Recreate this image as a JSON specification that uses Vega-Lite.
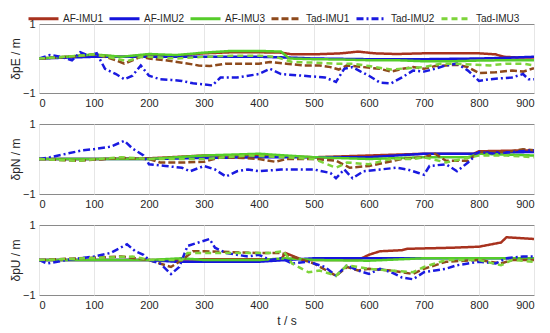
{
  "$schema": "https://vega.github.io/schema/vega-lite/v6.json",
  "padding": {"left": 8, "top": 2, "right": 5, "bottom": 5},
  "spacing": 8,
  "background": "white",
  "config": {
    "font": "Liberation Sans",
    "view": {"stroke": "#8a8a8a", "strokeWidth": 1},
    "axis": {"labelFont": "Liberation Sans", "labelFontSize": 11, "labelColor": "#262626", "titleFont": "Liberation Sans", "titleFontSize": 12, "titleFontWeight": "normal", "titleColor": "#262626", "domain": false, "tickColor": "#8a8a8a", "tickSize": 0, "labelPadding": 4},
    "legend": {"orient": "none", "legendX": -12, "legendY": -22, "direction": "horizontal", "columns": 6, "symbolType": "stroke", "symbolSize": 900, "symbolStrokeWidth": 3, "labelFontSize": 10, "labelFont": "Liberation Sans", "labelColor": "#262626", "labelOffset": 3, "columnPadding": 0, "title": null}
  },
  "data": {"values": [
{"c":"E","s":"AF-IMU1","t":0,"v":0},{"c":"E","s":"AF-IMU1","t":50,"v":0.05},{"c":"E","s":"AF-IMU1","t":100,"v":0.1},{"c":"E","s":"AF-IMU1","t":150,"v":0.05},{"c":"E","s":"AF-IMU1","t":200,"v":0.1},{"c":"E","s":"AF-IMU1","t":250,"v":0.08},{"c":"E","s":"AF-IMU1","t":300,"v":0.15},{"c":"E","s":"AF-IMU1","t":350,"v":0.18},{"c":"E","s":"AF-IMU1","t":400,"v":0.18},{"c":"E","s":"AF-IMU1","t":440,"v":0.17},{"c":"E","s":"AF-IMU1","t":460,"v":0.12},{"c":"E","s":"AF-IMU1","t":500,"v":0.12},{"c":"E","s":"AF-IMU1","t":550,"v":0.15},{"c":"E","s":"AF-IMU1","t":580,"v":0.2},{"c":"E","s":"AF-IMU1","t":610,"v":0.15},{"c":"E","s":"AF-IMU1","t":650,"v":0.13},{"c":"E","s":"AF-IMU1","t":700,"v":0.15},{"c":"E","s":"AF-IMU1","t":750,"v":0.15},{"c":"E","s":"AF-IMU1","t":800,"v":0.15},{"c":"E","s":"AF-IMU1","t":830,"v":0.12},{"c":"E","s":"AF-IMU1","t":845,"v":0.05},{"c":"E","s":"AF-IMU1","t":870,"v":0.03},{"c":"E","s":"AF-IMU1","t":900,"v":0.03},
{"c":"E","s":"AF-IMU2","t":0,"v":0},{"c":"E","s":"AF-IMU2","t":100,"v":0.05},{"c":"E","s":"AF-IMU2","t":200,"v":0.05},{"c":"E","s":"AF-IMU2","t":300,"v":0.05},{"c":"E","s":"AF-IMU2","t":400,"v":0.05},{"c":"E","s":"AF-IMU2","t":450,"v":0.03},{"c":"E","s":"AF-IMU2","t":500,"v":0.0},{"c":"E","s":"AF-IMU2","t":600,"v":-0.02},{"c":"E","s":"AF-IMU2","t":700,"v":-0.02},{"c":"E","s":"AF-IMU2","t":800,"v":0.0},{"c":"E","s":"AF-IMU2","t":850,"v":0.02},{"c":"E","s":"AF-IMU2","t":900,"v":0.05},
{"c":"E","s":"AF-IMU3","t":0,"v":0},{"c":"E","s":"AF-IMU3","t":50,"v":0.05},{"c":"E","s":"AF-IMU3","t":100,"v":0.12},{"c":"E","s":"AF-IMU3","t":150,"v":0.05},{"c":"E","s":"AF-IMU3","t":200,"v":0.13},{"c":"E","s":"AF-IMU3","t":250,"v":0.1},{"c":"E","s":"AF-IMU3","t":300,"v":0.17},{"c":"E","s":"AF-IMU3","t":350,"v":0.22},{"c":"E","s":"AF-IMU3","t":400,"v":0.22},{"c":"E","s":"AF-IMU3","t":440,"v":0.2},{"c":"E","s":"AF-IMU3","t":455,"v":0.0},{"c":"E","s":"AF-IMU3","t":500,"v":-0.02},{"c":"E","s":"AF-IMU3","t":550,"v":-0.03},{"c":"E","s":"AF-IMU3","t":600,"v":-0.05},{"c":"E","s":"AF-IMU3","t":650,"v":-0.05},{"c":"E","s":"AF-IMU3","t":700,"v":-0.08},{"c":"E","s":"AF-IMU3","t":750,"v":-0.08},{"c":"E","s":"AF-IMU3","t":800,"v":-0.06},{"c":"E","s":"AF-IMU3","t":850,"v":-0.05},{"c":"E","s":"AF-IMU3","t":900,"v":-0.05},
{"c":"E","s":"Tad-IMU1","t":0,"v":0},{"c":"E","s":"Tad-IMU1","t":30,"v":0.02},{"c":"E","s":"Tad-IMU1","t":60,"v":0.05},{"c":"E","s":"Tad-IMU1","t":100,"v":0.12},{"c":"E","s":"Tad-IMU1","t":120,"v":0.05},{"c":"E","s":"Tad-IMU1","t":140,"v":-0.05},{"c":"E","s":"Tad-IMU1","t":155,"v":-0.15},{"c":"E","s":"Tad-IMU1","t":170,"v":-0.05},{"c":"E","s":"Tad-IMU1","t":185,"v":0.05},{"c":"E","s":"Tad-IMU1","t":200,"v":0.0},{"c":"E","s":"Tad-IMU1","t":230,"v":-0.05},{"c":"E","s":"Tad-IMU1","t":260,"v":-0.12},{"c":"E","s":"Tad-IMU1","t":290,"v":-0.2},{"c":"E","s":"Tad-IMU1","t":310,"v":-0.22},{"c":"E","s":"Tad-IMU1","t":340,"v":-0.15},{"c":"E","s":"Tad-IMU1","t":370,"v":-0.15},{"c":"E","s":"Tad-IMU1","t":400,"v":-0.15},{"c":"E","s":"Tad-IMU1","t":420,"v":-0.1},{"c":"E","s":"Tad-IMU1","t":450,"v":-0.15},{"c":"E","s":"Tad-IMU1","t":480,"v":-0.2},{"c":"E","s":"Tad-IMU1","t":510,"v":-0.2},{"c":"E","s":"Tad-IMU1","t":530,"v":-0.25},{"c":"E","s":"Tad-IMU1","t":545,"v":-0.32},{"c":"E","s":"Tad-IMU1","t":560,"v":-0.2},{"c":"E","s":"Tad-IMU1","t":590,"v":-0.25},{"c":"E","s":"Tad-IMU1","t":620,"v":-0.3},{"c":"E","s":"Tad-IMU1","t":640,"v":-0.38},{"c":"E","s":"Tad-IMU1","t":660,"v":-0.3},{"c":"E","s":"Tad-IMU1","t":680,"v":-0.25},{"c":"E","s":"Tad-IMU1","t":700,"v":-0.3},{"c":"E","s":"Tad-IMU1","t":720,"v":-0.22},{"c":"E","s":"Tad-IMU1","t":740,"v":-0.2},{"c":"E","s":"Tad-IMU1","t":760,"v":-0.18},{"c":"E","s":"Tad-IMU1","t":780,"v":-0.25},{"c":"E","s":"Tad-IMU1","t":800,"v":-0.42},{"c":"E","s":"Tad-IMU1","t":830,"v":-0.4},{"c":"E","s":"Tad-IMU1","t":860,"v":-0.35},{"c":"E","s":"Tad-IMU1","t":880,"v":-0.38},{"c":"E","s":"Tad-IMU1","t":900,"v":-0.28},
{"c":"E","s":"Tad-IMU2","t":0,"v":0},{"c":"E","s":"Tad-IMU2","t":20,"v":0.1},{"c":"E","s":"Tad-IMU2","t":40,"v":0.05},{"c":"E","s":"Tad-IMU2","t":60,"v":-0.05},{"c":"E","s":"Tad-IMU2","t":75,"v":0.18},{"c":"E","s":"Tad-IMU2","t":90,"v":0.08},{"c":"E","s":"Tad-IMU2","t":105,"v":0.15},{"c":"E","s":"Tad-IMU2","t":120,"v":-0.3},{"c":"E","s":"Tad-IMU2","t":140,"v":-0.45},{"c":"E","s":"Tad-IMU2","t":155,"v":-0.6},{"c":"E","s":"Tad-IMU2","t":170,"v":-0.5},{"c":"E","s":"Tad-IMU2","t":185,"v":-0.2},{"c":"E","s":"Tad-IMU2","t":200,"v":-0.5},{"c":"E","s":"Tad-IMU2","t":220,"v":-0.6},{"c":"E","s":"Tad-IMU2","t":240,"v":-0.62},{"c":"E","s":"Tad-IMU2","t":260,"v":-0.65},{"c":"E","s":"Tad-IMU2","t":280,"v":-0.72},{"c":"E","s":"Tad-IMU2","t":300,"v":-0.75},{"c":"E","s":"Tad-IMU2","t":315,"v":-0.78},{"c":"E","s":"Tad-IMU2","t":330,"v":-0.55},{"c":"E","s":"Tad-IMU2","t":360,"v":-0.55},{"c":"E","s":"Tad-IMU2","t":400,"v":-0.45},{"c":"E","s":"Tad-IMU2","t":420,"v":-0.3},{"c":"E","s":"Tad-IMU2","t":440,"v":-0.45},{"c":"E","s":"Tad-IMU2","t":480,"v":-0.5},{"c":"E","s":"Tad-IMU2","t":520,"v":-0.55},{"c":"E","s":"Tad-IMU2","t":540,"v":-0.68},{"c":"E","s":"Tad-IMU2","t":555,"v":-0.3},{"c":"E","s":"Tad-IMU2","t":570,"v":-0.25},{"c":"E","s":"Tad-IMU2","t":585,"v":-0.38},{"c":"E","s":"Tad-IMU2","t":600,"v":-0.5},{"c":"E","s":"Tad-IMU2","t":620,"v":-0.7},{"c":"E","s":"Tad-IMU2","t":640,"v":-0.72},{"c":"E","s":"Tad-IMU2","t":660,"v":-0.55},{"c":"E","s":"Tad-IMU2","t":680,"v":-0.35},{"c":"E","s":"Tad-IMU2","t":700,"v":-0.38},{"c":"E","s":"Tad-IMU2","t":720,"v":-0.3},{"c":"E","s":"Tad-IMU2","t":740,"v":-0.2},{"c":"E","s":"Tad-IMU2","t":760,"v":-0.15},{"c":"E","s":"Tad-IMU2","t":780,"v":-0.35},{"c":"E","s":"Tad-IMU2","t":800,"v":-0.65},{"c":"E","s":"Tad-IMU2","t":820,"v":-0.6},{"c":"E","s":"Tad-IMU2","t":860,"v":-0.55},{"c":"E","s":"Tad-IMU2","t":880,"v":-0.45},{"c":"E","s":"Tad-IMU2","t":890,"v":-0.6},{"c":"E","s":"Tad-IMU2","t":900,"v":-0.6},
{"c":"E","s":"Tad-IMU3","t":0,"v":0},{"c":"E","s":"Tad-IMU3","t":50,"v":0.05},{"c":"E","s":"Tad-IMU3","t":100,"v":0.12},{"c":"E","s":"Tad-IMU3","t":140,"v":0.0},{"c":"E","s":"Tad-IMU3","t":160,"v":-0.08},{"c":"E","s":"Tad-IMU3","t":185,"v":0.05},{"c":"E","s":"Tad-IMU3","t":200,"v":0.05},{"c":"E","s":"Tad-IMU3","t":250,"v":0.0},{"c":"E","s":"Tad-IMU3","t":300,"v":0.05},{"c":"E","s":"Tad-IMU3","t":350,"v":0.08},{"c":"E","s":"Tad-IMU3","t":400,"v":0.08},{"c":"E","s":"Tad-IMU3","t":430,"v":0.05},{"c":"E","s":"Tad-IMU3","t":460,"v":-0.1},{"c":"E","s":"Tad-IMU3","t":500,"v":-0.12},{"c":"E","s":"Tad-IMU3","t":540,"v":-0.15},{"c":"E","s":"Tad-IMU3","t":570,"v":-0.15},{"c":"E","s":"Tad-IMU3","t":600,"v":-0.22},{"c":"E","s":"Tad-IMU3","t":640,"v":-0.32},{"c":"E","s":"Tad-IMU3","t":670,"v":-0.28},{"c":"E","s":"Tad-IMU3","t":700,"v":-0.25},{"c":"E","s":"Tad-IMU3","t":730,"v":-0.15},{"c":"E","s":"Tad-IMU3","t":760,"v":-0.15},{"c":"E","s":"Tad-IMU3","t":790,"v":-0.18},{"c":"E","s":"Tad-IMU3","t":820,"v":-0.2},{"c":"E","s":"Tad-IMU3","t":850,"v":-0.15},{"c":"E","s":"Tad-IMU3","t":880,"v":-0.15},{"c":"E","s":"Tad-IMU3","t":900,"v":-0.2},
{"c":"N","s":"AF-IMU1","t":0,"v":0},{"c":"N","s":"AF-IMU1","t":100,"v":0.0},{"c":"N","s":"AF-IMU1","t":200,"v":0.02},{"c":"N","s":"AF-IMU1","t":300,"v":0.1},{"c":"N","s":"AF-IMU1","t":400,"v":0.1},{"c":"N","s":"AF-IMU1","t":500,"v":0.05},{"c":"N","s":"AF-IMU1","t":600,"v":0.1},{"c":"N","s":"AF-IMU1","t":700,"v":0.15},{"c":"N","s":"AF-IMU1","t":790,"v":0.15},{"c":"N","s":"AF-IMU1","t":800,"v":0.22},{"c":"N","s":"AF-IMU1","t":900,"v":0.25},
{"c":"N","s":"AF-IMU2","t":0,"v":0},{"c":"N","s":"AF-IMU2","t":100,"v":0.0},{"c":"N","s":"AF-IMU2","t":200,"v":0.0},{"c":"N","s":"AF-IMU2","t":300,"v":0.03},{"c":"N","s":"AF-IMU2","t":400,"v":0.05},{"c":"N","s":"AF-IMU2","t":500,"v":0.05},{"c":"N","s":"AF-IMU2","t":600,"v":0.05},{"c":"N","s":"AF-IMU2","t":700,"v":0.15},{"c":"N","s":"AF-IMU2","t":790,"v":0.15},{"c":"N","s":"AF-IMU2","t":800,"v":0.18},{"c":"N","s":"AF-IMU2","t":900,"v":0.2},
{"c":"N","s":"AF-IMU3","t":0,"v":0},{"c":"N","s":"AF-IMU3","t":100,"v":0.0},{"c":"N","s":"AF-IMU3","t":200,"v":0.0},{"c":"N","s":"AF-IMU3","t":300,"v":0.1},{"c":"N","s":"AF-IMU3","t":400,"v":0.15},{"c":"N","s":"AF-IMU3","t":450,"v":0.1},{"c":"N","s":"AF-IMU3","t":500,"v":0.05},{"c":"N","s":"AF-IMU3","t":600,"v":0.0},{"c":"N","s":"AF-IMU3","t":700,"v":0.05},{"c":"N","s":"AF-IMU3","t":780,"v":0.05},{"c":"N","s":"AF-IMU3","t":800,"v":0.15},{"c":"N","s":"AF-IMU3","t":900,"v":0.1},
{"c":"N","s":"Tad-IMU1","t":0,"v":0},{"c":"N","s":"Tad-IMU1","t":70,"v":-0.05},{"c":"N","s":"Tad-IMU1","t":150,"v":0.03},{"c":"N","s":"Tad-IMU1","t":200,"v":0.0},{"c":"N","s":"Tad-IMU1","t":220,"v":-0.1},{"c":"N","s":"Tad-IMU1","t":260,"v":-0.1},{"c":"N","s":"Tad-IMU1","t":300,"v":-0.08},{"c":"N","s":"Tad-IMU1","t":330,"v":0.05},{"c":"N","s":"Tad-IMU1","t":370,"v":0.03},{"c":"N","s":"Tad-IMU1","t":400,"v":0.0},{"c":"N","s":"Tad-IMU1","t":430,"v":-0.08},{"c":"N","s":"Tad-IMU1","t":450,"v":0.0},{"c":"N","s":"Tad-IMU1","t":500,"v":0.0},{"c":"N","s":"Tad-IMU1","t":540,"v":-0.05},{"c":"N","s":"Tad-IMU1","t":565,"v":-0.25},{"c":"N","s":"Tad-IMU1","t":600,"v":-0.2},{"c":"N","s":"Tad-IMU1","t":630,"v":-0.1},{"c":"N","s":"Tad-IMU1","t":660,"v":0.0},{"c":"N","s":"Tad-IMU1","t":700,"v":0.05},{"c":"N","s":"Tad-IMU1","t":720,"v":0.15},{"c":"N","s":"Tad-IMU1","t":740,"v":-0.05},{"c":"N","s":"Tad-IMU1","t":780,"v":-0.05},{"c":"N","s":"Tad-IMU1","t":800,"v":0.2},{"c":"N","s":"Tad-IMU1","t":850,"v":0.2},{"c":"N","s":"Tad-IMU1","t":880,"v":0.28},{"c":"N","s":"Tad-IMU1","t":900,"v":0.25},
{"c":"N","s":"Tad-IMU2","t":0,"v":0},{"c":"N","s":"Tad-IMU2","t":20,"v":0.05},{"c":"N","s":"Tad-IMU2","t":50,"v":0.15},{"c":"N","s":"Tad-IMU2","t":80,"v":0.25},{"c":"N","s":"Tad-IMU2","t":100,"v":0.28},{"c":"N","s":"Tad-IMU2","t":130,"v":0.35},{"c":"N","s":"Tad-IMU2","t":155,"v":0.52},{"c":"N","s":"Tad-IMU2","t":170,"v":0.3},{"c":"N","s":"Tad-IMU2","t":190,"v":0.1},{"c":"N","s":"Tad-IMU2","t":200,"v":-0.15},{"c":"N","s":"Tad-IMU2","t":230,"v":-0.2},{"c":"N","s":"Tad-IMU2","t":260,"v":-0.25},{"c":"N","s":"Tad-IMU2","t":275,"v":-0.35},{"c":"N","s":"Tad-IMU2","t":300,"v":-0.2},{"c":"N","s":"Tad-IMU2","t":320,"v":-0.3},{"c":"N","s":"Tad-IMU2","t":340,"v":-0.5},{"c":"N","s":"Tad-IMU2","t":360,"v":-0.35},{"c":"N","s":"Tad-IMU2","t":380,"v":-0.3},{"c":"N","s":"Tad-IMU2","t":400,"v":-0.35},{"c":"N","s":"Tad-IMU2","t":440,"v":-0.3},{"c":"N","s":"Tad-IMU2","t":500,"v":-0.3},{"c":"N","s":"Tad-IMU2","t":530,"v":-0.4},{"c":"N","s":"Tad-IMU2","t":540,"v":-0.55},{"c":"N","s":"Tad-IMU2","t":555,"v":-0.3},{"c":"N","s":"Tad-IMU2","t":570,"v":-0.55},{"c":"N","s":"Tad-IMU2","t":590,"v":-0.35},{"c":"N","s":"Tad-IMU2","t":620,"v":-0.3},{"c":"N","s":"Tad-IMU2","t":650,"v":-0.25},{"c":"N","s":"Tad-IMU2","t":670,"v":-0.3},{"c":"N","s":"Tad-IMU2","t":690,"v":-0.4},{"c":"N","s":"Tad-IMU2","t":700,"v":-0.45},{"c":"N","s":"Tad-IMU2","t":710,"v":-0.2},{"c":"N","s":"Tad-IMU2","t":740,"v":-0.15},{"c":"N","s":"Tad-IMU2","t":760,"v":-0.35},{"c":"N","s":"Tad-IMU2","t":780,"v":-0.1},{"c":"N","s":"Tad-IMU2","t":800,"v":0.2},{"c":"N","s":"Tad-IMU2","t":830,"v":0.15},{"c":"N","s":"Tad-IMU2","t":860,"v":0.2},{"c":"N","s":"Tad-IMU2","t":900,"v":0.25},
{"c":"N","s":"Tad-IMU3","t":0,"v":0},{"c":"N","s":"Tad-IMU3","t":70,"v":-0.05},{"c":"N","s":"Tad-IMU3","t":150,"v":0.05},{"c":"N","s":"Tad-IMU3","t":200,"v":0.0},{"c":"N","s":"Tad-IMU3","t":300,"v":0.0},{"c":"N","s":"Tad-IMU3","t":380,"v":0.1},{"c":"N","s":"Tad-IMU3","t":450,"v":0.05},{"c":"N","s":"Tad-IMU3","t":500,"v":0.0},{"c":"N","s":"Tad-IMU3","t":540,"v":-0.25},{"c":"N","s":"Tad-IMU3","t":560,"v":-0.1},{"c":"N","s":"Tad-IMU3","t":600,"v":-0.15},{"c":"N","s":"Tad-IMU3","t":640,"v":0.0},{"c":"N","s":"Tad-IMU3","t":680,"v":0.0},{"c":"N","s":"Tad-IMU3","t":700,"v":0.05},{"c":"N","s":"Tad-IMU3","t":740,"v":-0.1},{"c":"N","s":"Tad-IMU3","t":800,"v":0.1},{"c":"N","s":"Tad-IMU3","t":850,"v":0.1},{"c":"N","s":"Tad-IMU3","t":900,"v":0.05},
{"c":"U","s":"AF-IMU1","t":0,"v":0},{"c":"U","s":"AF-IMU1","t":200,"v":0.0},{"c":"U","s":"AF-IMU1","t":300,"v":0.02},{"c":"U","s":"AF-IMU1","t":440,"v":0.02},{"c":"U","s":"AF-IMU1","t":448,"v":0.2},{"c":"U","s":"AF-IMU1","t":480,"v":0.0},{"c":"U","s":"AF-IMU1","t":500,"v":0.0},{"c":"U","s":"AF-IMU1","t":580,"v":0.0},{"c":"U","s":"AF-IMU1","t":600,"v":0.15},{"c":"U","s":"AF-IMU1","t":620,"v":0.25},{"c":"U","s":"AF-IMU1","t":660,"v":0.28},{"c":"U","s":"AF-IMU1","t":670,"v":0.32},{"c":"U","s":"AF-IMU1","t":750,"v":0.35},{"c":"U","s":"AF-IMU1","t":800,"v":0.38},{"c":"U","s":"AF-IMU1","t":840,"v":0.5},{"c":"U","s":"AF-IMU1","t":850,"v":0.65},{"c":"U","s":"AF-IMU1","t":900,"v":0.6},
{"c":"U","s":"AF-IMU2","t":0,"v":0},{"c":"U","s":"AF-IMU2","t":200,"v":0.0},{"c":"U","s":"AF-IMU2","t":250,"v":-0.05},{"c":"U","s":"AF-IMU2","t":300,"v":-0.05},{"c":"U","s":"AF-IMU2","t":400,"v":-0.05},{"c":"U","s":"AF-IMU2","t":450,"v":0.0},{"c":"U","s":"AF-IMU2","t":500,"v":0.05},{"c":"U","s":"AF-IMU2","t":600,"v":0.05},{"c":"U","s":"AF-IMU2","t":700,"v":0.05},{"c":"U","s":"AF-IMU2","t":800,"v":0.05},{"c":"U","s":"AF-IMU2","t":900,"v":0.05},
{"c":"U","s":"AF-IMU3","t":0,"v":0},{"c":"U","s":"AF-IMU3","t":200,"v":0.0},{"c":"U","s":"AF-IMU3","t":260,"v":0.05},{"c":"U","s":"AF-IMU3","t":300,"v":0.0},{"c":"U","s":"AF-IMU3","t":400,"v":0.0},{"c":"U","s":"AF-IMU3","t":450,"v":0.05},{"c":"U","s":"AF-IMU3","t":500,"v":0.0},{"c":"U","s":"AF-IMU3","t":600,"v":-0.02},{"c":"U","s":"AF-IMU3","t":700,"v":0.05},{"c":"U","s":"AF-IMU3","t":800,"v":0.05},{"c":"U","s":"AF-IMU3","t":900,"v":0.05},
{"c":"U","s":"Tad-IMU1","t":0,"v":0},{"c":"U","s":"Tad-IMU1","t":150,"v":0.1},{"c":"U","s":"Tad-IMU1","t":200,"v":0.0},{"c":"U","s":"Tad-IMU1","t":240,"v":-0.2},{"c":"U","s":"Tad-IMU1","t":260,"v":0.0},{"c":"U","s":"Tad-IMU1","t":280,"v":0.25},{"c":"U","s":"Tad-IMU1","t":300,"v":0.25},{"c":"U","s":"Tad-IMU1","t":400,"v":0.2},{"c":"U","s":"Tad-IMU1","t":440,"v":0.2},{"c":"U","s":"Tad-IMU1","t":460,"v":0.1},{"c":"U","s":"Tad-IMU1","t":490,"v":-0.05},{"c":"U","s":"Tad-IMU1","t":500,"v":-0.1},{"c":"U","s":"Tad-IMU1","t":540,"v":-0.45},{"c":"U","s":"Tad-IMU1","t":560,"v":-0.2},{"c":"U","s":"Tad-IMU1","t":580,"v":-0.3},{"c":"U","s":"Tad-IMU1","t":600,"v":-0.25},{"c":"U","s":"Tad-IMU1","t":640,"v":-0.3},{"c":"U","s":"Tad-IMU1","t":680,"v":-0.4},{"c":"U","s":"Tad-IMU1","t":700,"v":-0.25},{"c":"U","s":"Tad-IMU1","t":740,"v":-0.05},{"c":"U","s":"Tad-IMU1","t":800,"v":0.0},{"c":"U","s":"Tad-IMU1","t":840,"v":-0.1},{"c":"U","s":"Tad-IMU1","t":860,"v":0.0},{"c":"U","s":"Tad-IMU1","t":900,"v":0.0},
{"c":"U","s":"Tad-IMU2","t":0,"v":0},{"c":"U","s":"Tad-IMU2","t":15,"v":-0.1},{"c":"U","s":"Tad-IMU2","t":50,"v":0.0},{"c":"U","s":"Tad-IMU2","t":100,"v":0.1},{"c":"U","s":"Tad-IMU2","t":130,"v":0.2},{"c":"U","s":"Tad-IMU2","t":160,"v":0.45},{"c":"U","s":"Tad-IMU2","t":175,"v":0.25},{"c":"U","s":"Tad-IMU2","t":190,"v":0.15},{"c":"U","s":"Tad-IMU2","t":200,"v":0.0},{"c":"U","s":"Tad-IMU2","t":220,"v":-0.1},{"c":"U","s":"Tad-IMU2","t":240,"v":-0.4},{"c":"U","s":"Tad-IMU2","t":255,"v":-0.2},{"c":"U","s":"Tad-IMU2","t":270,"v":0.4},{"c":"U","s":"Tad-IMU2","t":290,"v":0.5},{"c":"U","s":"Tad-IMU2","t":310,"v":0.6},{"c":"U","s":"Tad-IMU2","t":320,"v":0.35},{"c":"U","s":"Tad-IMU2","t":340,"v":0.2},{"c":"U","s":"Tad-IMU2","t":360,"v":0.15},{"c":"U","s":"Tad-IMU2","t":380,"v":0.1},{"c":"U","s":"Tad-IMU2","t":400,"v":0.15},{"c":"U","s":"Tad-IMU2","t":420,"v":0.0},{"c":"U","s":"Tad-IMU2","t":440,"v":0.05},{"c":"U","s":"Tad-IMU2","t":460,"v":-0.1},{"c":"U","s":"Tad-IMU2","t":490,"v":-0.05},{"c":"U","s":"Tad-IMU2","t":500,"v":-0.1},{"c":"U","s":"Tad-IMU2","t":520,"v":-0.2},{"c":"U","s":"Tad-IMU2","t":540,"v":-0.45},{"c":"U","s":"Tad-IMU2","t":560,"v":-0.15},{"c":"U","s":"Tad-IMU2","t":580,"v":-0.3},{"c":"U","s":"Tad-IMU2","t":600,"v":-0.4},{"c":"U","s":"Tad-IMU2","t":620,"v":-0.25},{"c":"U","s":"Tad-IMU2","t":640,"v":-0.35},{"c":"U","s":"Tad-IMU2","t":660,"v":-0.5},{"c":"U","s":"Tad-IMU2","t":680,"v":-0.55},{"c":"U","s":"Tad-IMU2","t":700,"v":-0.35},{"c":"U","s":"Tad-IMU2","t":720,"v":-0.3},{"c":"U","s":"Tad-IMU2","t":740,"v":-0.25},{"c":"U","s":"Tad-IMU2","t":760,"v":-0.15},{"c":"U","s":"Tad-IMU2","t":780,"v":-0.1},{"c":"U","s":"Tad-IMU2","t":800,"v":-0.05},{"c":"U","s":"Tad-IMU2","t":830,"v":-0.1},{"c":"U","s":"Tad-IMU2","t":850,"v":0.05},{"c":"U","s":"Tad-IMU2","t":880,"v":0.1},{"c":"U","s":"Tad-IMU2","t":900,"v":0.1},
{"c":"U","s":"Tad-IMU3","t":0,"v":0},{"c":"U","s":"Tad-IMU3","t":170,"v":0.1},{"c":"U","s":"Tad-IMU3","t":200,"v":0.0},{"c":"U","s":"Tad-IMU3","t":260,"v":0.0},{"c":"U","s":"Tad-IMU3","t":270,"v":0.2},{"c":"U","s":"Tad-IMU3","t":300,"v":0.2},{"c":"U","s":"Tad-IMU3","t":420,"v":0.2},{"c":"U","s":"Tad-IMU3","t":445,"v":0.25},{"c":"U","s":"Tad-IMU3","t":460,"v":-0.1},{"c":"U","s":"Tad-IMU3","t":490,"v":-0.35},{"c":"U","s":"Tad-IMU3","t":510,"v":-0.3},{"c":"U","s":"Tad-IMU3","t":540,"v":-0.45},{"c":"U","s":"Tad-IMU3","t":560,"v":-0.15},{"c":"U","s":"Tad-IMU3","t":600,"v":-0.25},{"c":"U","s":"Tad-IMU3","t":640,"v":-0.3},{"c":"U","s":"Tad-IMU3","t":680,"v":-0.35},{"c":"U","s":"Tad-IMU3","t":700,"v":-0.2},{"c":"U","s":"Tad-IMU3","t":740,"v":0.0},{"c":"U","s":"Tad-IMU3","t":800,"v":0.0},{"c":"U","s":"Tad-IMU3","t":840,"v":-0.15},{"c":"U","s":"Tad-IMU3","t":860,"v":0.0},{"c":"U","s":"Tad-IMU3","t":900,"v":-0.05}
  ]},
  "vconcat": [
    {
      "width": 495, "height": 69,
      "transform": [{"filter": "datum.c === 'E'"}],
      "mark": {"type": "line", "strokeWidth": 2.5, "clip": true},
      "encoding": {
        "x": {"field": "t", "type": "quantitative", "scale": {"domain": [0, 900], "nice": false}, "axis": {"values": [0,100,200,300,400,500,600,700,800,900], "title": null, "grid": true, "gridColor": "#e6e6e6"}},
        "y": {"field": "v", "type": "quantitative", "scale": {"domain": [-1, 1], "nice": false}, "axis": {"values": [-1, 0, 1], "format": "d", "title": "δpE / m", "grid": false, "titlePadding": 0}},
        "color": {"field": "s", "type": "nominal", "sort": null, "scale": {"domain": ["AF-IMU1","AF-IMU2","AF-IMU3","Tad-IMU1","Tad-IMU2","Tad-IMU3"], "range": ["#A8321E","#1515DC","#55CC2A","#8E4A1C","#1A1AE0","#7ED43A"]}},
        "strokeDash": {"field": "s", "type": "nominal", "sort": null, "scale": {"domain": ["AF-IMU1","AF-IMU2","AF-IMU3","Tad-IMU1","Tad-IMU2","Tad-IMU3"], "range": [[1,0],[1,0],[1,0],[7,3],[7,3,2,3],[6,4]]}}
      }
    },
    {
      "width": 495, "height": 70,
      "transform": [{"filter": "datum.c === 'N'"}],
      "mark": {"type": "line", "strokeWidth": 2.5, "clip": true},
      "encoding": {
        "x": {"field": "t", "type": "quantitative", "scale": {"domain": [0, 900], "nice": false}, "axis": {"values": [0,100,200,300,400,500,600,700,800,900], "title": null, "grid": true, "gridColor": "#e6e6e6"}},
        "y": {"field": "v", "type": "quantitative", "scale": {"domain": [-1, 1], "nice": false}, "axis": {"values": [-1, 0, 1], "format": "d", "title": "δpN / m", "grid": false, "titlePadding": 0}},
        "color": {"field": "s", "type": "nominal", "sort": null, "scale": {"domain": ["AF-IMU1","AF-IMU2","AF-IMU3","Tad-IMU1","Tad-IMU2","Tad-IMU3"], "range": ["#A8321E","#1515DC","#55CC2A","#8E4A1C","#1A1AE0","#7ED43A"]}},
        "strokeDash": {"field": "s", "type": "nominal", "sort": null, "scale": {"domain": ["AF-IMU1","AF-IMU2","AF-IMU3","Tad-IMU1","Tad-IMU2","Tad-IMU3"], "range": [[1,0],[1,0],[1,0],[7,3],[7,3,2,3],[6,4]]}}
      }
    },
    {
      "width": 495, "height": 70,
      "transform": [{"filter": "datum.c === 'U'"}],
      "mark": {"type": "line", "strokeWidth": 2.5, "clip": true},
      "encoding": {
        "x": {"field": "t", "type": "quantitative", "scale": {"domain": [0, 900], "nice": false}, "axis": {"values": [0,100,200,300,400,500,600,700,800,900], "title": "t / s", "titlePadding": 5, "grid": true, "gridColor": "#e6e6e6"}},
        "y": {"field": "v", "type": "quantitative", "scale": {"domain": [-1, 1], "nice": false}, "axis": {"values": [-1, 0, 1], "format": "d", "title": "δpU / m", "grid": false, "titlePadding": 0}},
        "color": {"field": "s", "type": "nominal", "sort": null, "scale": {"domain": ["AF-IMU1","AF-IMU2","AF-IMU3","Tad-IMU1","Tad-IMU2","Tad-IMU3"], "range": ["#A8321E","#1515DC","#55CC2A","#8E4A1C","#1A1AE0","#7ED43A"]}},
        "strokeDash": {"field": "s", "type": "nominal", "sort": null, "scale": {"domain": ["AF-IMU1","AF-IMU2","AF-IMU3","Tad-IMU1","Tad-IMU2","Tad-IMU3"], "range": [[1,0],[1,0],[1,0],[7,3],[7,3,2,3],[6,4]]}}
      }
    }
  ]
}
